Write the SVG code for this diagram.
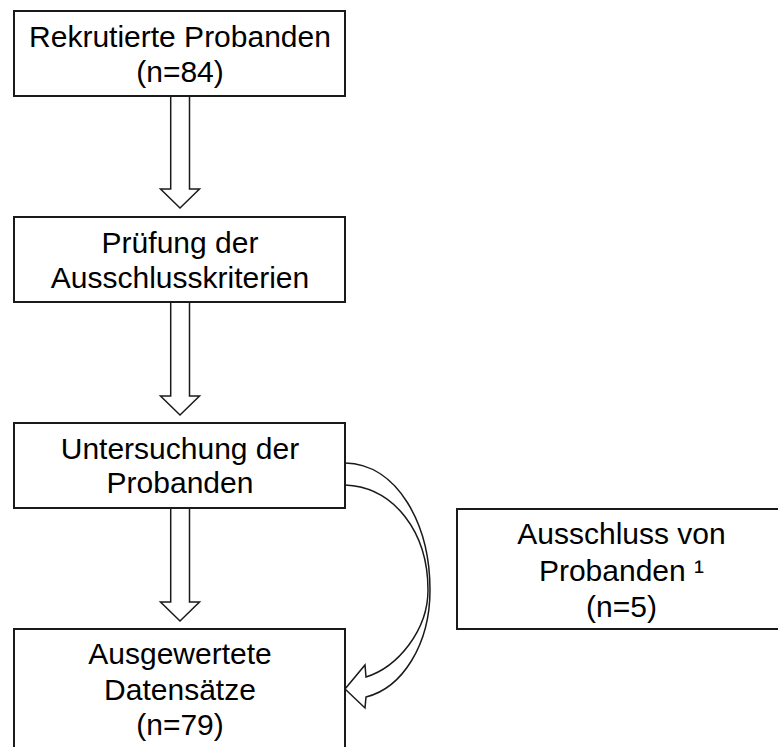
<svg xmlns="http://www.w3.org/2000/svg" width="778" height="747" viewBox="0 0 778 747">
<style>
.box{fill:#fff;stroke:#1a1a1a;stroke-width:2}
.arr{fill:#fff;stroke:#1a1a1a;stroke-width:1.5;stroke-linejoin:miter}
text{font-family:"Liberation Sans",Arial,sans-serif;font-size:30px;fill:#000;text-anchor:middle}
</style>
<rect width="778" height="747" fill="#fff"/>
<g id="connectors">
<path class="arr" d="M170.7,96 V189 H160.5 L180,208 L199.5,189 H189.5 V96"/>
<path class="arr" d="M170.7,302 V396 H160.5 L180,415 L199.5,396 H189.5 V302"/>
<path class="arr" d="M170.7,508 V602 H160.5 L180,621 L199.5,602 H189.5 V508"/>
<path class="arr" d="M345,463 C398,464 430,525 430,590 C430,645 402,688 366,697 L365,708 L345,689 L365,665 L366,677 C398,667 428,630 428,590 C428,532 394,487 345,485"/>
</g>
<g id="node1">
<rect class="box" x="14" y="11" width="331" height="85"/>
<text x="180" y="46.5">Rekrutierte Probanden</text>
<text x="180" y="81.5">(n=84)</text>
</g>
<g id="node2">
<rect class="box" x="14" y="217" width="331" height="85"/>
<text x="180" y="252.5">Prüfung der</text>
<text x="180" y="287.5">Ausschlusskriterien</text>
</g>
<g id="node3">
<rect class="box" x="14" y="423" width="331" height="85"/>
<text x="180" y="458.5">Untersuchung der</text>
<text x="180" y="493">Probanden</text>
</g>
<g id="node4">
<rect class="box" x="14" y="629" width="331" height="140"/>
<text x="180" y="663.5">Ausgewertete</text>
<text x="180" y="699.5">Datensätze</text>
<text x="180" y="735">(n=79)</text>
</g>
<g id="node5">
<rect class="box" x="457" y="509" width="340" height="120"/>
<text x="621.5" y="543.5">Ausschluss von</text>
<text x="621.5" y="580.5">Probanden ¹</text>
<text x="621.5" y="616.5">(n=5)</text>
</g>
</svg>
